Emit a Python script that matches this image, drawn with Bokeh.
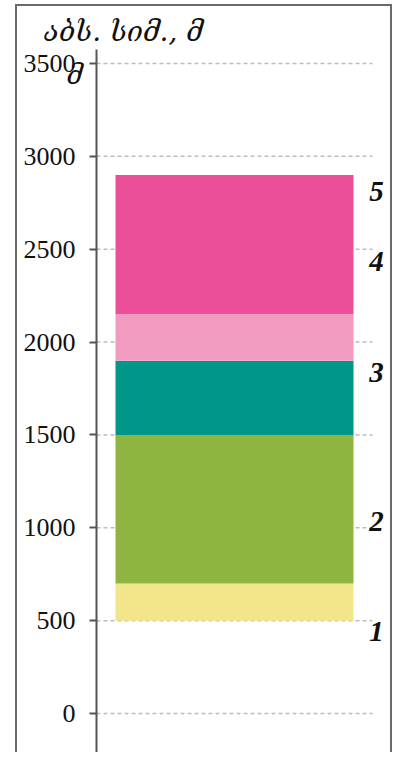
from bokeh.plotting import figure
from bokeh.models import Range1d, FixedTicker, LinearAxis, ColumnDataSource
from bokeh.core.properties import value
from bokeh.embed import file_html
from bokeh.resources import INLINE

# ---- data ----
layer_bottoms = [500, 700, 1500, 1900, 2150]
layer_tops = [700, 1500, 1900, 2150, 2900]
layer_colors = ["#F3E68A", "#8DB53F", "#009689", "#F29BC1", "#EC4F99"]
label_texts = ["1", "2", "3", "4", "5"]
label_heights = [441, 1034, 1836, 2434, 2811]
tick_values = [0, 500, 1000, 1500, 2000, 2500, 3000, 3500]
title_text = "აბს. სიმ., მ"

W, H = 377, 748
p = figure(width=W, height=H, output_backend="svg", toolbar_location=None,
           x_range=Range1d(0, 298), y_range=Range1d(-220.8, 3575.4),
           x_axis_location=None, min_border_left=79, min_border_right=0,
           min_border_top=43, min_border_bottom=0)
p.margin = (4, 0, 0, 15)
p.styles = {"border-top": "2px solid #6a6a6a", "border-left": "2px solid #6a6a6a",
            "border-right": "2px solid #6a6a6a"}
p.outline_line_color = None
p.xgrid.visible = False
p.ygrid.visible = False
p.background_fill_color = "white"
p.border_fill_color = "white"

p.title.text = title_text
p.title.align = "left"
p.title.offset = -53
p.title.text_font = "DejaVu Serif"
p.title.text_font_style = "italic"
p.title.text_font_size = "28px"
p.title.text_color = "#111111"
p.title.standoff = 3

yax = p.yaxis[0]
yax.ticker = FixedTicker(ticks=tick_values)
yax.axis_line_color = "#555555"
yax.axis_line_width = 2
yax.major_tick_line_color = "#555555"
yax.major_tick_line_width = 2
yax.major_tick_out = 7
yax.major_tick_in = 0
yax.minor_tick_line_color = None
yax.major_label_text_font = "Liberation Serif"
yax.major_label_text_font_size = "26px"
yax.major_label_text_color = "#111111"
yax.major_label_standoff = 14

# stray unit glyph printed over the top tick label
extra = LinearAxis(ticker=FixedTicker(ticks=[3440]), major_label_overrides={3440: "მ"},
                   axis_line_color=None, major_tick_line_color=None,
                   minor_tick_line_color=None, major_label_standoff=-68,
                   major_label_text_font="DejaVu Serif",
                   major_label_text_font_style="italic",
                   major_label_text_font_size="27px",
                   major_label_text_color="#111111")
p.add_layout(extra, "left")

# dashed grid lines
p.segment(x0=[0] * len(tick_values), x1=[276] * len(tick_values),
          y0=tick_values, y1=tick_values,
          line_color="#bdbdbd", line_width=1.5, line_dash="4 3")

# stacked layers
src = ColumnDataSource(dict(bottom=layer_bottoms, top=layer_tops, color=layer_colors,
                            x=[138] * len(layer_tops)))
p.vbar(x="x", width=238, bottom="bottom", top="top", color="color", source=src,
       line_color=None)

# layer numbers
p.text(x=[280] * len(label_texts), y=label_heights, text=label_texts,
       text_font=value("Liberation Serif"), text_font_style="bold italic",
       text_font_size="29px", text_align="center", text_baseline="middle",
       text_color="#111111")

open("out.html", "w").write(file_html(p, INLINE))
